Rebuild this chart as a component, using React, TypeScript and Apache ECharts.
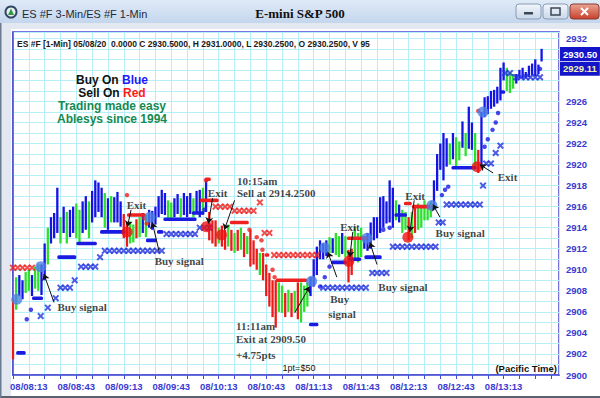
import { useEffect, useRef } from 'react';
import * as echarts from 'echarts';

// ---- data (x = minutes after 08:03, y = price) ----
const startMinute = 8 * 60 + 3;
const barStep = 2;
const barHigh = [
  2907.2, 2909.3, 2909.5, 2909.0, 2909.8, 2910.0, 2909.5, 2910.3, 2910.5, 2910.5,
  2912.5, 2914.0, 2915.0, 2915.4, 2917.8, 2915.0, 2916.0, 2915.5, 2915.7, 2916.0,
  2916.3, 2915.7, 2916.5, 2917.0, 2916.5, 2917.5, 2918.5, 2918.3, 2917.8, 2917.3,
  2916.8, 2917.0, 2916.9, 2917.4, 2916.5, 2915.3, 2914.5, 2914.6, 2914.3, 2914.8,
  2915.0, 2915.4, 2915.2, 2915.7, 2915.6, 2916.0, 2917.0, 2917.6, 2917.3, 2916.6,
  2916.4, 2916.8, 2917.2, 2916.8, 2917.3, 2917.0, 2917.3, 2916.8, 2917.5, 2917.6,
  2917.8, 2918.5, 2915.5, 2914.7, 2914.7, 2914.0, 2914.2, 2913.8, 2914.3, 2913.8,
  2913.5, 2913.8, 2914.0, 2913.5, 2913.2, 2913.8, 2912.8, 2912.0, 2911.6, 2911.6,
  2910.5, 2909.7, 2909.0, 2909.0, 2908.8, 2908.5, 2907.8, 2908.1, 2907.8, 2908.0,
  2908.8, 2908.8, 2908.5, 2908.8, 2909.3, 2911.0, 2912.2, 2912.8, 2912.5, 2912.8,
  2913.1, 2913.0, 2913.5, 2913.2, 2913.5, 2913.2, 2911.9, 2912.0, 2914.1, 2913.5,
  2914.0, 2913.2, 2913.5, 2914.5, 2915.0, 2915.0, 2916.9, 2917.0, 2916.5, 2918.5,
  2917.8, 2916.6, 2916.2, 2915.7, 2915.5, 2915.0, 2915.5, 2916.0, 2916.3, 2916.0,
  2916.6, 2916.2, 2916.5, 2918.5, 2921.0, 2922.0, 2923.0, 2922.5, 2922.0, 2923.0,
  2922.6, 2922.2, 2924.1, 2923.0, 2925.5, 2924.0, 2923.0, 2921.4, 2925.0, 2926.4,
  2926.5, 2927.0, 2927.1, 2927.4, 2929.2, 2929.7, 2929.2, 2928.8, 2928.6, 2928.6,
  2929.0, 2929.2, 2928.8, 2929.4, 2929.6, 2930.0, 2929.5, 2931.0,
];
const barLow = [
  2901.5, 2906.2, 2907.5, 2907.2, 2907.8, 2908.0, 2907.5, 2908.2, 2908.0, 2907.6,
  2909.0, 2910.5, 2912.5, 2913.0, 2913.5, 2912.5, 2913.5, 2912.5, 2913.1, 2913.5,
  2913.0, 2912.6, 2913.5, 2913.8, 2913.0, 2914.5, 2915.0, 2915.5, 2915.0, 2914.0,
  2913.8, 2914.5, 2914.5, 2914.5, 2914.1, 2913.0, 2912.2, 2912.5, 2912.6, 2913.0,
  2913.1, 2913.5, 2913.1, 2914.0, 2913.8, 2914.3, 2915.0, 2915.3, 2915.2, 2914.8,
  2914.7, 2915.0, 2915.3, 2915.0, 2915.2, 2915.0, 2915.3, 2915.0, 2915.4, 2915.0,
  2915.2, 2915.5, 2912.8, 2912.5, 2912.2, 2912.5, 2912.2, 2911.9, 2912.2, 2911.8,
  2911.6, 2911.8, 2911.9, 2911.2, 2911.5, 2910.3, 2910.5, 2910.0, 2909.5, 2909.0,
  2907.5, 2906.5, 2905.5, 2904.5, 2906.0, 2905.9, 2905.5, 2906.0, 2905.5, 2906.0,
  2905.3, 2905.0, 2906.0, 2906.5, 2907.5, 2908.4, 2909.5, 2911.0, 2911.0, 2911.3,
  2911.6, 2911.6, 2911.4, 2911.2, 2911.5, 2911.2, 2908.8, 2909.5, 2911.0, 2910.7,
  2911.2, 2912.0, 2911.8, 2912.0, 2912.8, 2913.0, 2913.5, 2914.0, 2914.4, 2914.5,
  2914.0, 2914.7, 2914.5, 2913.5, 2913.8, 2912.8, 2913.0, 2913.5, 2913.8, 2914.0,
  2914.7, 2914.7, 2915.0, 2916.0, 2917.5, 2919.5, 2918.5, 2919.8, 2920.0, 2920.5,
  2919.8, 2920.4, 2921.6, 2920.8, 2921.5, 2921.4, 2919.8, 2919.2, 2919.7, 2924.5,
  2924.8, 2925.3, 2925.5, 2925.8, 2926.1, 2928.0, 2927.0, 2926.8, 2927.2, 2927.7,
  2928.2, 2928.2, 2928.2, 2928.3, 2928.5, 2928.4, 2928.6, 2929.8,
];
const barColorCodes = (
  'rgbbggbggb' + 'bgbbbgbgbb' + 'ggbbgbbbbg' + 'bgbbbrrggr' + 'gbgbbbbbbg' + 'gbbgbbbgbb' +
  'gbrrrgrrgr' + 'grgrgrrrgr' + 'rrrrggrgrg' + 'rgggbbbbbb' + 'gbggbgrrgg' + 'gbbbbbbbbb' +
  'bgbggrgrgg' + 'gggbbbbbgb' + 'ggbgbbgrbb' + 'bbbbbbgggb' + 'bbbbbbbb'
).split('');

// stop dashes [fromMinute, toMinute, price]
const blueDashes = [
  [2, 8, 2902.1], [12, 19, 2907.3], [28, 40, 2911.2], [40, 53, 2912.5], [55, 71, 2913.6],
  [84, 91, 2912.8], [91, 95, 2913.6], [95, 116, 2914.8], [113, 121, 2915.4],
  [187, 193, 2904.8], [201, 211, 2910.7], [212, 220, 2911.0], [222, 233, 2911.2],
  [241, 249, 2915.2], [277, 293, 2919.7], [308, 311, 2926.9],
];
const redDashes = [
  [72, 84, 2915.2], [121, 125, 2918.6], [118, 130, 2916.6], [137, 149, 2914.5],
  [159, 162, 2911.4], [166, 186, 2909.0], [211, 224, 2913.0], [247, 252, 2916.3], [252, 264, 2916.0],
];
const blueDots = [
  [8.7, 2905.3], [11.3, 2906.2], [121, 2915.7], [194, 2908.4], [197, 2909.3], [200, 2910.3],
  [234, 2913.8], [238, 2914.0], [271, 2917.1], [273, 2917.6], [275, 2917.9], [298, 2921.7],
  [300, 2922.4], [303, 2923.3], [305, 2924.0], [306.5, 2924.9], [333, 2929.1],
];
const redDots = [
  [72, 2917.1], [83, 2914.9], [84.5, 2914.4], [122, 2918.5], [149.4, 2913.8], [154, 2913.1],
  [157, 2912.8], [157.6, 2911.9], [164, 2910.0], [165.3, 2909.3], [294, 2925.1],
];
const blueCrosses = [
  [17.5, 2905.6], [22, 2906.4], [27, 2907.3], [30, 2908.3], [33, 2908.3], [36, 2908.3], [39, 2909.0],
  [43, 2910.3], [46, 2910.3], [49, 2910.3], [52, 2910.3], [55, 2911.2],
  [58, 2911.8], [61, 2911.8], [64, 2911.8], [67, 2911.8], [70, 2911.8], [73, 2911.8], [76, 2911.8],
  [79, 2911.8], [82, 2911.8], [85, 2911.8], [88, 2911.8], [91, 2911.8], [94, 2911.8],
  [97, 2913.4], [100, 2913.4], [103, 2913.4], [106, 2913.4], [109, 2913.4], [112, 2913.4], [115, 2913.4],
  [118, 2914.0], [121, 2914.0], [124, 2914.0],
  [196, 2908.3], [199, 2908.3], [202, 2908.3], [205, 2908.3], [208, 2908.3], [211, 2908.3],
  [214, 2908.3], [217, 2908.3], [220, 2908.3], [223, 2908.3],
  [227, 2909.7], [230, 2909.7], [233, 2909.7], [236, 2909.7],
  [240, 2912.2], [243, 2912.2], [246, 2912.2], [249, 2912.2], [252, 2912.2], [255, 2912.2],
  [258, 2912.2], [261, 2912.2], [264, 2912.2], [267, 2912.2],
  [269, 2914.5], [271.5, 2914.5],
  [274, 2916.2], [277, 2916.2], [280, 2916.2], [283, 2916.2], [286, 2916.2], [289, 2916.2], [292, 2916.2], [295, 2916.2],
  [297, 2918.0], [299, 2920.1], [302, 2920.1], [305, 2921.1], [308, 2921.8],
  [311, 2928.7], [314, 2928.7], [318, 2928.3], [321, 2928.3], [324, 2928.3], [327, 2928.3], [330, 2928.3], [333, 2928.3],
];
const redCrosses = [
  [0, 2910.2], [3, 2910.2], [6, 2910.2], [9, 2910.2], [12, 2910.2],
  [128, 2916.0], [131, 2916.0], [134, 2916.0], [137, 2916.0],
  [140, 2915.6], [143, 2915.6], [146, 2915.6], [149, 2915.6], [152, 2915.6], [156, 2916.4],
  [159, 2913.5], [162, 2913.5],
  [165, 2911.4], [168, 2911.4], [171, 2911.4], [174, 2911.4], [177, 2911.4], [180, 2911.4],
  [183, 2911.4], [186, 2911.4], [189, 2911.4], [192, 2911.4],
];
const buySignals = [
  [2.4, 2907.2], [17.6, 2910.3], [86.5, 2915.0], [188.7, 2908.9], [197, 2912.1],
  [223.6, 2913.0], [264.7, 2916.1], [297, 2925.0],
];
const sellSignals = [
  [72.1, 2913.6], [122.2, 2914.1], [131.7, 2913.3], [212.2, 2910.8], [249.5, 2913.1], [293.3, 2919.8],
];
const annotationTexts = [
  'Buy signal', 'Exit', 'Buy signal', 'Exit', '10:15am', 'Sell at 2914.2500',
  '11:11am', 'Exit at 2909.50', '+4.75pts', 'Exit', 'Buy', 'signal', 'Buy signal',
  'Exit', 'Buy signal', 'Exit',
];
const annotationAt = [
  [27.8, 2906.5], [71.5, 2916.2], [89.2, 2910.8], [122.8, 2917.3], [141.2, 2918.4], [141.2, 2917.3],
  [140.6, 2904.7], [140.6, 2903.4], [140.6, 2901.9], [206.4, 2914.1], [200.1, 2907.2], [198.9, 2905.8],
  [230.5, 2908.4], [247.6, 2917.0], [266.7, 2913.5], [306.0, 2918.8],
];
const arrowLines = [
  [[25.9, 2906.9], [19.5, 2909.6]], [[74.6, 2915.7], [72.3, 2914.1]], [[92.4, 2911.7], [88.0, 2914.5]],
  [[126.1, 2916.8], [123.4, 2914.4]], [[140.0, 2916.6], [133.6, 2913.8]], [[178.0, 2905.9], [187.4, 2908.4]],
  [[214.7, 2913.6], [212.8, 2911.2]], [[204.6, 2909.3], [198.9, 2911.7]], [[230.0, 2910.5], [225.5, 2912.6]],
  [[253.5, 2916.6], [250.8, 2913.6]], [[269.8, 2915.0], [265.3, 2916.2]], [[303.4, 2919.2], [295.0, 2920.0]],
];
const lastPrices = [2930.5, 2929.11];
const yMin = 2900;
const yMax = 2932.6;
const xMax = 345;

const palette: Record<string, string> = { b: '#1414e6', g: '#2ee02e', r: '#ee1a1a' };
const BLUE_TXT = '#3a3ad2';
const SANS = 'Liberation Sans, Arial, sans-serif';
const SERIF = 'Liberation Serif, Times New Roman, serif';
const CROSS = 'path://M0,2L2,0L5,3L8,0L10,2L7,5L10,8L8,10L5,7L2,10L0,8L3,5Z';

const pad = (n: number) => (n < 10 ? '0' + n : '' + n);

function dashSeries(data: number[][], color: string) {
  return {
    type: 'custom',
    z: 3,
    data,
    encode: { x: [0, 1], y: 2 },
    renderItem: (_p: any, api: any) => {
      const a = api.coord([api.value(0), api.value(2)]);
      const b = api.coord([api.value(1), api.value(2)]);
      return {
        type: 'rect',
        shape: { x: a[0], y: a[1] - 1.8, width: Math.max(3, b[0] - a[0]), height: 3.6, r: 1.5 },
        style: { fill: color },
      };
    },
  };
}

function buildOption() {
  const bars = barHigh.map((h, i) => [i * barStep, barLow[i], h, barColorCodes[i]]);
  return {
    animation: false,
    backgroundColor: '#e3e8f0',
    grid: {
      left: 13, right: 41, top: 32, bottom: 23,
      show: true, backgroundColor: '#ffffff', borderColor: '#4a4ad4', borderWidth: 1.5,
    },
    xAxis: {
      type: 'value', min: 0, max: xMax, interval: 10,
      axisLine: { show: true, lineStyle: { color: '#4a4ad4', width: 1.5 } },
      axisTick: { show: true, length: 4, lineStyle: { color: '#4a4ad4' } },
      splitLine: { show: true, lineStyle: { color: '#b8eef7', width: 1 } },
      axisLabel: {
        color: BLUE_TXT, fontFamily: SANS, fontWeight: 'bold', fontSize: 9.5, margin: 6,
        showMaxLabel: false,
        formatter: (v: number) => {
          const m = Math.round(v);
          if (m > 310 || (m - 10) % 30 !== 0) return '';
          const t = startMinute + m;
          return '08/' + pad(Math.floor(t / 60)) + ':' + pad(t % 60);
        },
      },
    },
    yAxis: {
      type: 'value', position: 'right', min: yMin, max: yMax, interval: 1,
      axisLine: { show: true, lineStyle: { color: '#4a4ad4', width: 1.5 } },
      axisTick: { show: false },
      splitLine: { show: true, lineStyle: { color: '#b8eef7', width: 1 } },
      axisLabel: {
        color: BLUE_TXT, fontFamily: SANS, fontWeight: 'bold', fontSize: 9.5, margin: 7,
        formatter: (v: number) => {
          const r = Math.round(v);
          if (Math.abs(v - r) > 1e-6 || r % 2 !== 0) return '';
          // values hidden behind the last-price boxes
          if (lastPrices.some((p) => Math.abs(p - r) < 1.2)) return '';
          return String(r);
        },
      },
    },
    series: [
      {
        type: 'custom',
        z: 2,
        data: bars,
        encode: { x: 0, y: [1, 2] },
        renderItem: (params: any, api: any) => {
          const top = api.coord([api.value(0), api.value(2)]);
          const bot = api.coord([api.value(0), api.value(1)]);
          const code = bars[params.dataIndex][3] as string;
          return {
            type: 'rect',
            shape: { x: top[0] - 1.15, y: top[1], width: 2.3, height: Math.max(1.5, bot[1] - top[1]) },
            style: { fill: palette[code] },
          };
        },
        markLine: {
          silent: true, symbol: 'none',
          lineStyle: { color: 'rgba(0,0,0,0)', width: 0 },
          label: {
            show: true, position: 'end', distance: 1,
            backgroundColor: '#1414c8', padding: [2, 3, 2, 3],
            fontFamily: SANS, fontWeight: 'bold', fontSize: 9.5,
            formatter: (p: any) => Number(p.value).toFixed(2),
          },
          data: lastPrices.map((v, i) => ({
            yAxis: v,
            label: { color: i === 0 ? '#ffffff' : '#f2f2b0' },
          })),
        },
      },
      dashSeries(blueDashes, '#1a1ae2'),
      dashSeries(redDashes, '#ee2020'),
      {
        type: 'scatter', z: 4, data: blueCrosses, symbol: CROSS, symbolSize: 7,
        itemStyle: { color: '#2233dd' }, silent: true,
      },
      {
        type: 'scatter', z: 4, data: redCrosses, symbol: CROSS, symbolSize: 7,
        itemStyle: { color: '#ee2222' }, silent: true,
      },
      {
        type: 'scatter', z: 4, data: blueDots, symbolSize: 4.5,
        itemStyle: { color: '#1a1ae2' }, silent: true,
      },
      {
        type: 'scatter', z: 4, data: redDots, symbolSize: 4.5,
        itemStyle: { color: '#ee2020' }, silent: true,
      },
      {
        type: 'scatter', z: 5, data: buySignals, symbolSize: 11,
        itemStyle: { color: '#4c7fe6' }, silent: true,
      },
      {
        type: 'scatter', z: 5, data: sellSignals, symbolSize: 11,
        itemStyle: { color: '#ee1111' }, silent: true,
      },
      {
        type: 'lines', coordinateSystem: 'cartesian2d', z: 6, silent: true,
        symbol: ['none', 'arrow'], symbolSize: 6,
        lineStyle: { color: '#111111', width: 1, opacity: 1 },
        data: arrowLines.map((c) => ({ coords: c })),
      },
      {
        type: 'scatter', z: 7, silent: true, symbolSize: 1,
        itemStyle: { color: 'rgba(0,0,0,0)' },
        data: annotationAt.map((v, i) => ({ value: v, name: annotationTexts[i] })),
        label: {
          show: true, position: 'right', distance: 0, formatter: '{b}',
          color: '#111111', fontFamily: SERIF, fontWeight: 'bold', fontSize: 11,
        },
      },
    ],
    graphic: [
      { type: 'rect', z: -10, shape: { x: 11, y: 29, width: 589, height: 367 }, style: { fill: '#ffffff' } },
      { type: 'rect', z: 10, shape: { x: 0, y: 396, width: 600, height: 2 }, style: { fill: '#5a6270' } },
      { type: 'rect', z: 10, shape: { x: 0, y: 0, width: 1.5, height: 398 }, style: { fill: '#6a7a90' } },
      // title bar
      {
        type: 'rect', z: 10, shape: { x: 0, y: 0, width: 600, height: 23 },
        style: {
          fill: new echarts.graphic.LinearGradient(0, 0, 0, 1, [
            { offset: 0, color: '#dfeaf7' }, { offset: 1, color: '#c4d6ed' },
          ]),
        },
      },
      { type: 'circle', z: 11, shape: { cx: 11, cy: 12, r: 6.5 }, style: { fill: '#2f4560' } },
      { type: 'circle', z: 11, shape: { cx: 11, cy: 12, r: 4.5 }, style: { fill: '#e9eff6' } },
      { type: 'polygon', z: 12, shape: { points: [[11, 8.5], [14, 15], [8, 15]] }, style: { fill: '#2f9a3a' } },
      {
        type: 'text', z: 11, x: 22, y: 14,
        style: { text: 'ES #F 3-Min/ES #F 1-Min', fill: '#1e2a3a', fontFamily: SANS, fontSize: 11, textVerticalAlign: 'middle' },
      },
      {
        type: 'text', z: 11, x: 300, y: 13,
        style: { text: 'E-mini S&P 500', fill: '#101010', fontFamily: SERIF, fontWeight: 'bold', fontSize: 13, textAlign: 'center', textVerticalAlign: 'middle' },
      },
      {
        type: 'rect', z: 11, shape: { x: 516, y: 4, width: 25, height: 15, r: 3 },
        style: {
          fill: new echarts.graphic.LinearGradient(0, 0, 0, 1, [{ offset: 0, color: '#f2f6fb' }, { offset: 1, color: '#cad8ea' }]),
          stroke: '#8a9bb4', lineWidth: 1,
        },
      },
      { type: 'rect', z: 12, shape: { x: 524, y: 12, width: 9, height: 2.5 }, style: { fill: '#3b4656' } },
      {
        type: 'rect', z: 11, shape: { x: 543, y: 4, width: 25, height: 15, r: 3 },
        style: {
          fill: new echarts.graphic.LinearGradient(0, 0, 0, 1, [{ offset: 0, color: '#f2f6fb' }, { offset: 1, color: '#cad8ea' }]),
          stroke: '#8a9bb4', lineWidth: 1,
        },
      },
      { type: 'rect', z: 12, shape: { x: 551, y: 8, width: 9, height: 7 }, style: { fill: 'none', stroke: '#3b4656', lineWidth: 1.5 } },
      {
        type: 'rect', z: 11, shape: { x: 570, y: 4, width: 29, height: 15, r: 3 },
        style: {
          fill: new echarts.graphic.LinearGradient(0, 0, 0, 1, [{ offset: 0, color: '#eaa595' }, { offset: 1, color: '#c7402a' }]),
          stroke: '#8a3a30', lineWidth: 1,
        },
      },
      { type: 'line', z: 12, shape: { x1: 581, y1: 8, x2: 588, y2: 15 }, style: { stroke: '#ffffff', lineWidth: 2 } },
      { type: 'line', z: 12, shape: { x1: 588, y1: 8, x2: 581, y2: 15 }, style: { stroke: '#ffffff', lineWidth: 2 } },
      // header line
      {
        type: 'text', z: 11, x: 17, y: 44,
        style: {
          text: 'ES #F [1-Min] 05/08/20  0.0000 C 2930.5000, H 2931.0000, L 2930.2500, O 2930.2500, V 95',
          fill: '#1a1a1a', fontFamily: SANS, fontWeight: 'bold', fontSize: 8.5, textVerticalAlign: 'middle',
        },
      },
      // legend text
      {
        type: 'text', z: 11, x: 112, y: 80,
        style: {
          text: '{k|Buy On }{b|Blue}', textAlign: 'center', textVerticalAlign: 'middle',
          rich: {
            k: { fill: '#111111', fontFamily: SANS, fontWeight: 'bold', fontSize: 12 },
            b: { fill: '#1a1aff', fontFamily: SANS, fontWeight: 'bold', fontSize: 12 },
          },
        },
      },
      {
        type: 'text', z: 11, x: 112, y: 93,
        style: {
          text: '{k|Sell On }{r|Red}', textAlign: 'center', textVerticalAlign: 'middle',
          rich: {
            k: { fill: '#111111', fontFamily: SANS, fontWeight: 'bold', fontSize: 12 },
            r: { fill: '#ff1a1a', fontFamily: SANS, fontWeight: 'bold', fontSize: 12 },
          },
        },
      },
      {
        type: 'text', z: 11, x: 112, y: 106,
        style: { text: 'Trading made easy', fill: '#148a52', fontFamily: SANS, fontWeight: 'bold', fontSize: 12, textAlign: 'center', textVerticalAlign: 'middle' },
      },
      {
        type: 'text', z: 11, x: 112, y: 119,
        style: { text: 'Ablesys since 1994', fill: '#148a52', fontFamily: SANS, fontWeight: 'bold', fontSize: 12, textAlign: 'center', textVerticalAlign: 'middle' },
      },
      {
        type: 'text', z: 11, x: 299, y: 368,
        style: { text: '1pt=$50', fill: '#111111', fontFamily: SANS, fontSize: 9, textAlign: 'center', textVerticalAlign: 'middle' },
      },
      {
        type: 'text', z: 11, x: 557, y: 368,
        style: { text: '(Pacific Time)', fill: '#111111', fontFamily: SANS, fontWeight: 'bold', fontSize: 9.5, textAlign: 'right', textVerticalAlign: 'middle' },
      },
    ],
  };
}

export default function App() {
  const ref = useRef<HTMLDivElement>(null);
  useEffect(() => {
    document.body.style.margin = '0';
    const chart = echarts.init(ref.current as HTMLDivElement, null, { renderer: 'svg' });
    chart.setOption(buildOption() as any);
    return () => chart.dispose();
  }, []);
  return <div ref={ref} style={{ width: 600, height: 398, position: 'absolute', left: 0, top: 0 }} />;
}
